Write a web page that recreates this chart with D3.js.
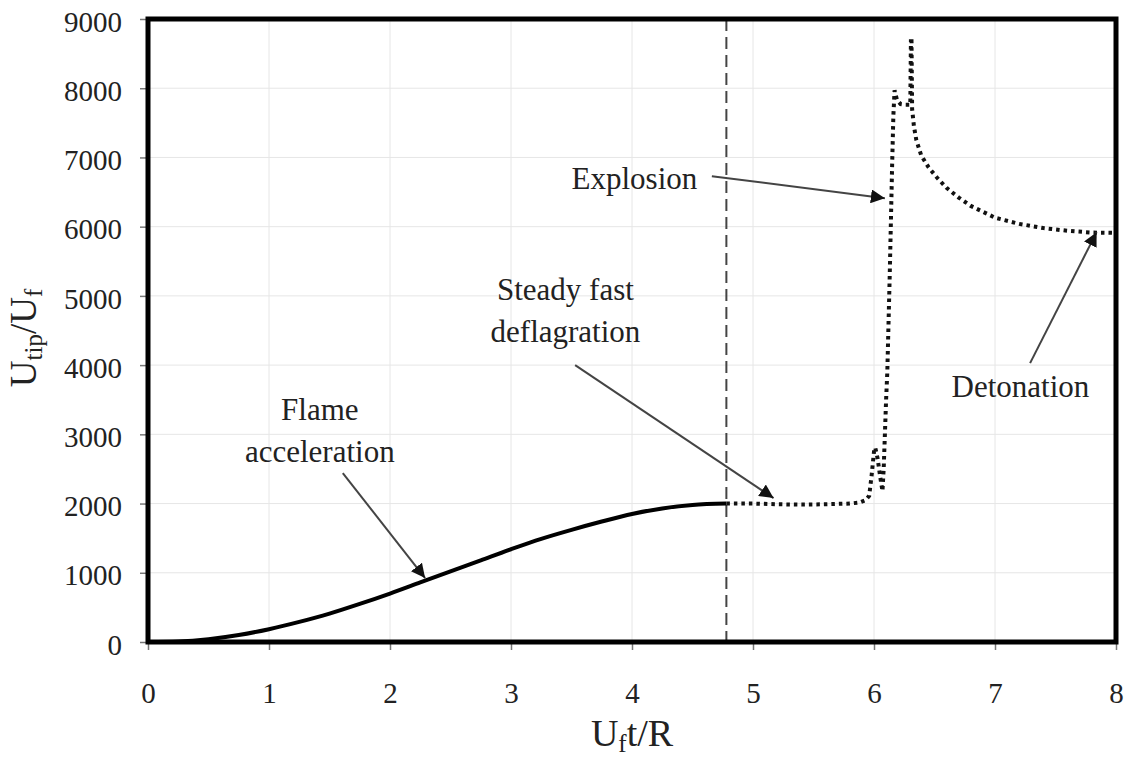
<!DOCTYPE html>
<html>
<head>
<meta charset="utf-8">
<script src="https://cdn.jsdelivr.net/npm/d3@7"></script>
<style>
  body { margin: 0; background: #fff; }
  text { font-family: "Liberation Serif", "Times New Roman", serif; fill: #222; }
</style>
</head>
<body>
<div id="chart"></div>
<script>
// flame acceleration (solid) part
const accelT = [0, 0.25, 0.5, 0.75, 1, 1.25, 1.5, 1.75, 2, 2.25, 2.5, 2.75, 3, 3.25, 3.5, 3.75, 4, 4.25, 4.5, 4.78];
const accelU = [0, 8, 40, 100, 185, 290, 410, 550, 700, 860, 1020, 1180, 1340, 1490, 1620, 1740, 1850, 1930, 1980, 2000];

// deflagration -> explosion -> detonation (dotted) part
const deflT = [4.78, 5.0, 5.2, 5.4, 5.6, 5.8, 5.88, 5.93, 5.96, 5.98, 6.0, 6.01, 6.03, 6.05, 6.07, 6.08, 6.09, 6.1, 6.11, 6.12, 6.13, 6.14, 6.15, 6.16, 6.17, 6.19, 6.22, 6.26, 6.3, 6.305, 6.31, 6.315, 6.33, 6.35, 6.39, 6.45, 6.52, 6.6, 6.7, 6.8, 7.0, 7.2, 7.4, 7.6, 7.8, 8.0];
const deflU = [2000, 2000, 1990, 1985, 1990, 2000, 2015, 2050, 2110, 2400, 2750, 2810, 2650, 2400, 2180, 2500, 3000, 3500, 3900, 4600, 5300, 6100, 6900, 7600, 7970, 7830, 7770, 7760, 7760, 8680, 8680, 7700, 7450, 7250, 7030, 6860, 6710, 6560, 6420, 6300, 6130, 6040, 5980, 5940, 5915, 5910];

const transitionT = 4.78;

const xTicks = [0, 1, 2, 3, 4, 5, 6, 7, 8];
const yTicks = [0, 1000, 2000, 3000, 4000, 5000, 6000, 7000, 8000, 9000];

// annotations: text anchor and arrow (from -> tip), in data units
const notes = [
  {lines: ["Flame", "acceleration"], tx: 1.42, ty: 3206, x0: 1.61, y0: 2440, x1: 2.29, y1: 924},
  {lines: ["Steady fast", "deflagration"], tx: 3.45, ty: 4939, x0: 3.53, y0: 4000, x1: 5.17, y1: 2079},
  {lines: ["Explosion"], tx: 4.02, ty: 6542, x0: 4.66, y0: 6729, x1: 6.09, y1: 6412},
  {lines: ["Detonation"], tx: 7.21, ty: 3538, x0: 7.29, y0: 4029, x1: 7.84, y1: 5921}
];

const W = 1128, H = 759;
const margin = {top: 19, right: 12, bottom: 117, left: 148};
const width = W - margin.left - margin.right,
      height = H - margin.top - margin.bottom;

const svg = d3.select("#chart").append("svg")
  .attr("width", W)
  .attr("height", H);

const defs = svg.append("defs");
defs.append("marker")
  .attr("id", "head")
  .attr("viewBox", "0 0 10 10")
  .attr("refX", 10).attr("refY", 5)
  .attr("markerWidth", 7).attr("markerHeight", 7)
  .attr("markerUnits", "strokeWidth")
  .attr("orient", "auto")
  .append("path")
  .attr("d", "M0,0 L10,5 L0,10 z")
  .attr("fill", "#111");

const g = svg.append("g")
  .attr("transform", "translate(" + margin.left + "," + margin.top + ")");

const x = d3.scaleLinear().domain([0, 8]).range([0, width]);
const y = d3.scaleLinear().domain([0, 9000]).range([height, 0]);

// gridlines
g.append("g").selectAll("line.gy")
  .data(yTicks.slice(1, -1))
  .join("line")
  .attr("x1", 0).attr("x2", width)
  .attr("y1", d => y(d)).attr("y2", d => y(d))
  .attr("stroke", "#e6e6e6").attr("stroke-width", 1);
g.append("g").selectAll("line.gx")
  .data(xTicks.slice(1, -1))
  .join("line")
  .attr("y1", 0).attr("y2", height)
  .attr("x1", d => x(d)).attr("x2", d => x(d))
  .attr("stroke", "#e6e6e6").attr("stroke-width", 1);

// axes
const xAxis = g.append("g")
  .attr("transform", "translate(0," + height + ")")
  .call(d3.axisBottom(x).tickValues(xTicks).tickFormat(d3.format("d")).tickSize(8).tickPadding(32));
const yAxis = g.append("g")
  .call(d3.axisLeft(y).tickValues(yTicks).tickFormat(d3.format("d")).tickSize(8).tickPadding(18));

[xAxis, yAxis].forEach(a => {
  a.select(".domain").remove();
  a.selectAll(".tick line").attr("stroke", "#777").attr("stroke-width", 1.5);
  a.selectAll(".tick text")
    .style("font-family", "Liberation Serif, serif")
    .style("font-size", "29px")
    .attr("fill", "#222");
});
yAxis.selectAll(".tick text").attr("dy", "0.42em");

// vertical dashed line at transition
g.append("line")
  .attr("x1", x(transitionT)).attr("x2", x(transitionT))
  .attr("y1", 0).attr("y2", height)
  .attr("stroke", "#444")
  .attr("stroke-width", 2)
  .attr("stroke-dasharray", "12,6");

const line = d3.line()
  .x(d => x(d[0]))
  .y(d => y(d[1]));

g.append("path")
  .datum(accelT.map((t, i) => [t, accelU[i]]))
  .attr("d", line.curve(d3.curveMonotoneX))
  .attr("fill", "none")
  .attr("stroke", "#000")
  .attr("stroke-width", 4);

g.append("path")
  .datum(deflT.map((t, i) => [t, deflU[i]]))
  .attr("d", line.curve(d3.curveLinear))
  .attr("fill", "none")
  .attr("stroke", "#111")
  .attr("stroke-width", 4)
  .attr("stroke-dasharray", "3.5,4");

// frame
g.append("rect")
  .attr("x", 0).attr("y", 0)
  .attr("width", width).attr("height", height)
  .attr("fill", "none")
  .attr("stroke", "#000")
  .attr("stroke-width", 5);

// annotations
const ann = g.append("g");
notes.forEach(n => {
  ann.append("line")
    .attr("x1", x(n.x0)).attr("y1", y(n.y0))
    .attr("x2", x(n.x1)).attr("y2", y(n.y1))
    .attr("stroke", "#444")
    .attr("stroke-width", 2)
    .attr("marker-end", "url(#head)");
  const t = ann.append("text")
    .attr("x", x(n.tx)).attr("y", y(n.ty))
    .attr("text-anchor", "middle")
    .style("font-size", "31px");
  n.lines.forEach((s, i) => {
    t.append("tspan")
      .attr("x", x(n.tx))
      .attr("dy", i === 0 ? 0 : 42)
      .text(s);
  });
});

// axis titles
const xt = svg.append("text")
  .attr("x", margin.left + width / 2)
  .attr("y", 746)
  .attr("text-anchor", "middle")
  .style("font-size", "38px");
xt.append("tspan").text("U");
xt.append("tspan").attr("baseline-shift", "-25%").style("font-size", "25px").text("f");
xt.append("tspan").text("t/R");

const yt = svg.append("text")
  .attr("transform", "translate(36," + 338 + ") rotate(-90)")
  .attr("text-anchor", "middle")
  .style("font-size", "37px");
yt.append("tspan").text("U");
yt.append("tspan").attr("baseline-shift", "-25%").style("font-size", "25px").text("tip");
yt.append("tspan").text("/U");
yt.append("tspan").attr("baseline-shift", "-25%").style("font-size", "25px").text("f");
</script>
</body>
</html>
